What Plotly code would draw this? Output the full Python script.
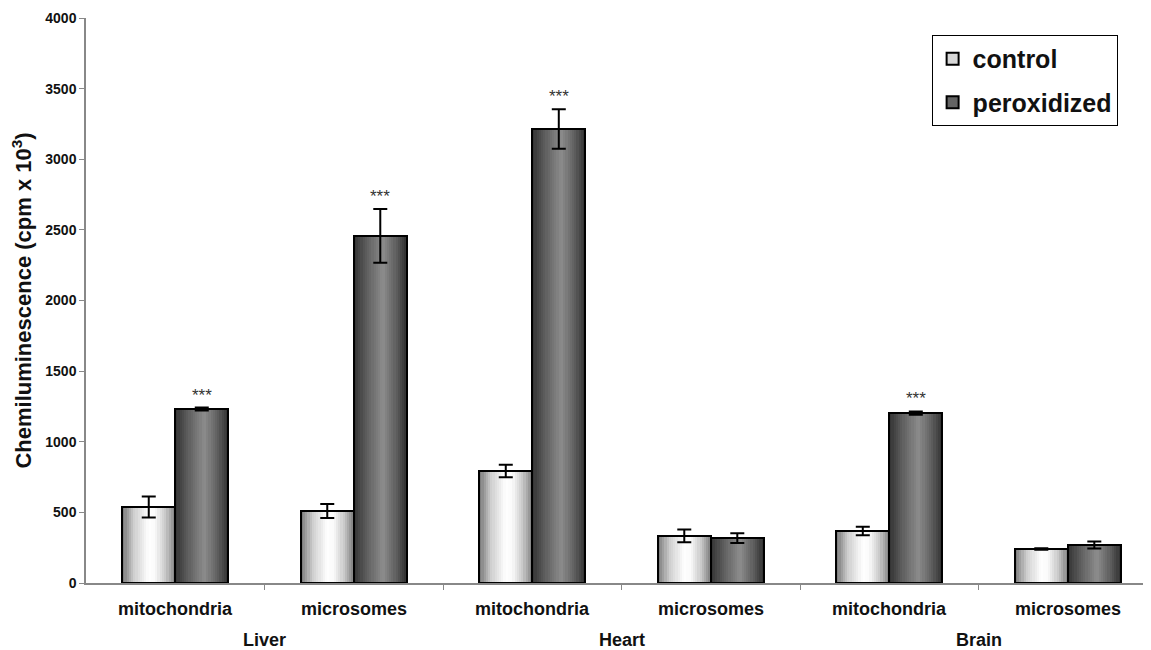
import plotly.graph_objects as go

# ---- data ----
categories = ["mitochondria", "microsomes", "mitochondria", "microsomes", "mitochondria", "microsomes"]
organs = ["Liver", "Heart", "Brain"]
control = [538, 510, 793, 333, 368, 241]
control_err = [75, 50, 45, 45, 30, 5]
peroxidized = [1232, 2457, 3214, 318, 1203, 269]
peroxidized_err = [10, 190, 140, 35, 12, 25]
significant = [True, True, True, False, True, False]
y_ticks = [0, 500, 1000, 1500, 2000, 2500, 3000, 3500, 4000]

FONT = "Arial, Liberation Sans, sans-serif"
BAR_W = 0.297
N_STRIPS = 24
groups = list(range(len(categories)))


def lerp_gray(stops, t):
    for (t0, g0), (t1, g1) in zip(stops, stops[1:]):
        if t0 <= t <= t1:
            f = (t - t0) / (t1 - t0) if t1 > t0 else 0
            g = int(round(g0 + (g1 - g0) * f))
            return f"rgb({g},{g},{g})"
    g = stops[-1][1]
    return f"rgb({g},{g},{g})"


control_stops = [(0, 118), (0.22, 205), (0.5, 255), (0.62, 250), (0.82, 200), (1, 128)]
perox_stops = [(0, 50), (0.25, 95), (0.55, 140), (0.8, 95), (1, 48)]

fig = go.Figure()

series = [
    ("control", control, control_err, -BAR_W / 2, control_stops, "rgb(215,215,215)"),
    ("peroxidized", peroxidized, peroxidized_err, BAR_W / 2, perox_stops, "rgb(100,100,100)"),
]

sw = BAR_W / N_STRIPS
for name, vals, errs, off, stops, legcol in series:
    for k in range(N_STRIPS):
        t = (k + 0.5) / N_STRIPS
        fig.add_trace(go.Bar(
            x=[g + off - BAR_W / 2 + (k + 0.5) * sw for g in groups],
            y=vals, width=[sw * 1.08] * len(groups),
            marker=dict(color=lerp_gray(stops, t), line=dict(width=0)),
            showlegend=False, hoverinfo="skip",
        ))

for name, vals, errs, off, stops, legcol in series:
    fig.add_trace(go.Bar(
        x=[g + off for g in groups], y=vals, width=[BAR_W] * len(groups),
        marker=dict(color="rgba(0,0,0,0)", line=dict(color="black", width=2)),
        error_y=dict(type="data", array=errs, color="black", thickness=2, width=7),
        showlegend=False, name=name,
    ))

for name, vals, errs, off, stops, legcol in series:
    fig.add_trace(go.Bar(
        x=[None], y=[None], name=name, legendgroup=name,
        marker=dict(color=legcol, line=dict(color="black", width=1.5)),
    ))

annotations = []
for g, sig in zip(groups, significant):
    if sig:
        annotations.append(dict(
            x=g + BAR_W / 2, y=peroxidized[g] + peroxidized_err[g],
            text="***", showarrow=False, yanchor="bottom", yshift=1,
            font=dict(family=FONT, size=17, color="#333"),
        ))
for g, cat in zip(groups, categories):
    annotations.append(dict(
        x=g, y=0, xref="x", yref="y", text=f"<b>{cat}</b>", showarrow=False,
        yanchor="middle", yshift=-26, font=dict(family=FONT, size=18, color="#111"),
    ))
for i, org in enumerate(organs):
    annotations.append(dict(
        x=2 * i + 0.5, y=0, xref="x", yref="y", text=f"<b>{org}</b>", showarrow=False,
        yanchor="middle", yshift=-57, font=dict(family=FONT, size=18, color="#111"),
    ))

fig.update_layout(
    width=1143, height=642,
    margin=dict(l=78, r=0, t=10, b=67),
    paper_bgcolor="white", plot_bgcolor="white",
    barmode="overlay", bargap=0,
    font=dict(family=FONT, color="#111"),
    annotations=annotations,
    legend=dict(
        x=0.794, y=0.970, xanchor="left", yanchor="top",
        bgcolor="white", bordercolor="black", borderwidth=1,
        font=dict(family=FONT, size=25, color="#111", weight="bold"),
        itemsizing="constant", tracegroupgap=8, traceorder="grouped",
    ),
    xaxis=dict(
        range=[-0.5, 5.466], showgrid=False, zeroline=False,
        showline=True, linecolor="#888", linewidth=1.5,
        tickmode="array", tickvals=[0.5, 1.5, 2.5, 3.5, 4.5], showticklabels=False,
        ticks="outside", ticklen=5, tickcolor="#888", automargin=False,
    ),
    yaxis=dict(
        range=[0, 4000], showgrid=False, zeroline=False,
        showline=True, linecolor="#888", linewidth=1.5,
        tickmode="array", tickvals=y_ticks, ticktext=[f"<b>{v}</b>" for v in y_ticks],
        ticks="outside", ticklen=5, tickcolor="#888", automargin=False,
        tickfont=dict(family=FONT, size=14, color="#111"),
        title=dict(text="<b>Chemiluminescence (cpm x 10<sup>3</sup>)</b>",
                   font=dict(family=FONT, size=22, color="#111"), standoff=11),
    ),
)

fig.write_html("out.html")
